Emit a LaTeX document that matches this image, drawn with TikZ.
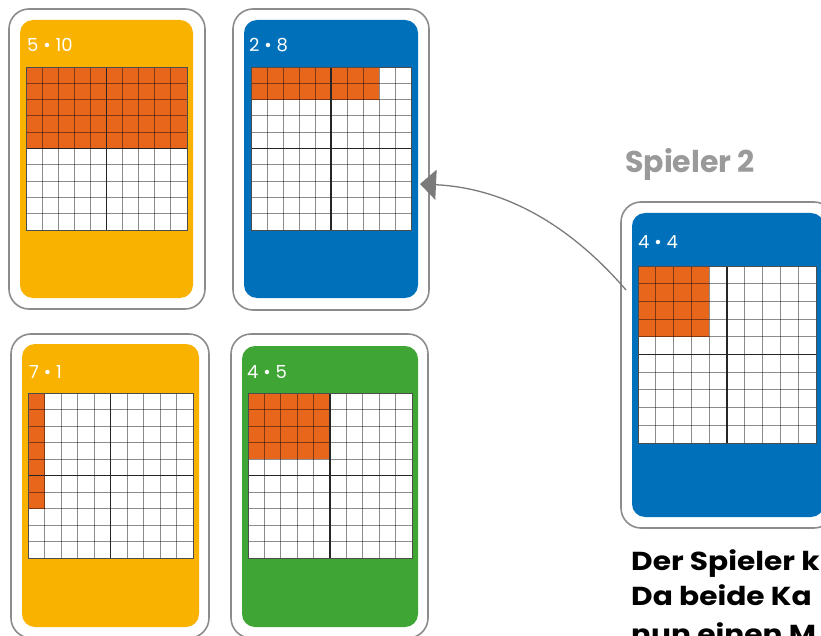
\documentclass[tikz,border=0pt]{standalone}
\usepackage{fontspec}
\setmainfont{Poppins}
\newfontfamily\widefont[FakeStretch=1.14]{Poppins}
\usetikzlibrary{arrows.meta}
\definecolor{cyellow}{HTML}{F9B200}
\definecolor{cblue}{HTML}{0070BA}
\definecolor{cgreen}{HTML}{3FA535}
\definecolor{corange}{HTML}{E8661C}
\definecolor{cborder}{HTML}{8C8C8C}
\definecolor{cgraytext}{HTML}{9A9A9A}
\definecolor{carrow}{HTML}{7A7A7A}
\tikzset{
  cardout/.style={draw=cborder, line width=1.6pt, fill=white, rounded corners=20pt, inner sep=0pt, outer sep=0pt},
  cardin/.style={rounded corners=13pt, inner sep=0pt, outer sep=0pt},
  gridthin/.style={draw=black, opacity=0.45, line width=1pt},
  gridthick/.style={draw=black!85, line width=1.3pt},
  gridborder/.style={draw=black!70, line width=0.9pt},
  cardlabel/.style={text=white, font=\fontsize{18}{20}\selectfont, anchor=base west, inner sep=0pt},
  bigtext/.style={font=\widefont\bfseries\fontsize{26}{30}\selectfont, anchor=base west, inner sep=0pt},
  conn/.style={draw=carrow, line width=1.3pt, -{Triangle[length=16pt,width=30pt]}}
}
\newcommand\cardgrid[6]{%
  \fill[white] (#1,#2) rectangle (#3,#4);
  \fill[corange] (#1,#2) rectangle ({#1+#5*(#3-#1)/10},{#2+#6*(#4-#2)/10});
  \foreach \k in {1,2,3,4,6,7,8,9}{
    \draw[gridthin] ({#1+\k*(#3-#1)/10},#2) -- ({#1+\k*(#3-#1)/10},#4);
    \draw[gridthin] (#1,{#2+\k*(#4-#2)/10}) -- (#3,{#2+\k*(#4-#2)/10});
  }
  \draw[gridthick] ({(#1+#3)/2},#2) -- ({(#1+#3)/2},#4);
  \draw[gridthick] (#1,{(#2+#4)/2}) -- (#3,{(#2+#4)/2});
  \draw[gridborder] (#1,#2) rectangle (#3,#4);
}
\begin{document}
\begin{tikzpicture}[x=1pt,y=-1pt]
\useasboundingbox (0,0) rectangle (821,636);

% card 1 : 5 . 10
\node[cardout, minimum width=196pt, minimum height=300pt] (c1) at (107,159) {};
\node[cardin, fill=cyellow, minimum width=173pt, minimum height=278pt] (i1) at (106.5,159) {};
\cardgrid{26}{67}{187}{230}{10}{5}
\node[cardlabel] (l1) at (27,52) {5 • 10};

% card 2 : 2 . 8
\node[cardout, minimum width=196pt, minimum height=301pt] (c2) at (331,159.5) {};
\node[cardin, fill=cblue, minimum width=174pt, minimum height=278pt] (i2) at (331,159) {};
\cardgrid{251}{67}{411}{230}{8}{2}
\node[cardlabel] (l2) at (249,52) {2 • 8};

% card 3 : 7 . 1
\node[cardout, minimum width=198pt, minimum height=304pt] (c3) at (110,486) {};
\node[cardin, fill=cyellow, minimum width=177pt, minimum height=283pt] (i3) at (110.5,485.5) {};
\cardgrid{28}{393}{193}{558}{1}{7}
\node[cardlabel] (l3) at (29,378) {7 • 1};

% card 4 : 4 . 5
\node[cardout, minimum width=197pt, minimum height=304pt] (c4) at (329.5,486) {};
\node[cardin, fill=cgreen, minimum width=176pt, minimum height=281pt] (i4) at (330,486.5) {};
\cardgrid{248}{393}{412}{558}{5}{4}
\node[cardlabel] (l4) at (247,378) {4 • 5};

% card 5 : 4 . 4  (Spieler 2)
\node[cardout, minimum width=213pt, minimum height=326pt] (c5) at (727.5,365) {};
\node[cardin, fill=cblue, minimum width=192pt, minimum height=304pt] (i5) at (728,365) {};
\cardgrid{638}{266}{816}{443}{4}{4}
\node[cardlabel] (l5) at (638,248) {4 • 4};

\node[font=\bfseries\fontsize{30}{34}\selectfont, text=cgraytext, anchor=base west, inner sep=0pt] (sp) at (625,173) {Spieler 2};

% connector
\coordinate (afrom) at (626,290);
\coordinate (ato) at (420,184);
\draw[conn] (afrom) .. controls (570,225) and (505,188) .. (ato);

% bottom text (cut off at the picture's edge, as in the reference)
\node[bigtext] (t1) at (631,570) {Der Spieler k};
\node[bigtext] (t2) at (631,605) {Da beide Ka};
\node[bigtext] (t3) at (631,643) {nun einen M};
\end{tikzpicture}
\end{document}
